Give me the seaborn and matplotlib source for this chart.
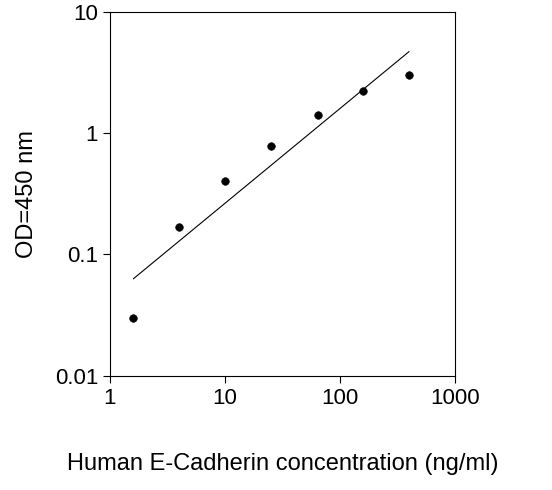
import numpy as np
import pandas as pd
import seaborn as sns
import matplotlib.pyplot as plt
import matplotlib.ticker as mticker

conc = [1.6, 4, 10, 25, 64, 160, 400]
od = [0.030, 0.17, 0.40, 0.78, 1.40, 2.22, 3.0]
fit_x = [1.6, 400]
fit_y = [0.063, 4.7]

data = pd.DataFrame({"conc": conc, "od": od})

sns.set_style("ticks")
plt.rcParams['font.family'] = ['Liberation Sans', 'DejaVu Sans']
plt.rcParams['text.color'] = 'black'
plt.rcParams['axes.labelcolor'] = 'black'
plt.rcParams['xtick.color'] = 'black'
plt.rcParams['ytick.color'] = 'black'

fig = plt.figure(figsize=[5.52, 4.90], dpi=100)
ax = fig.add_axes([0.199, 0.233, 0.625, 0.743])

sns.lineplot(x=fit_x, y=fit_y, color='black', lw=0.8, ax=ax)
sns.scatterplot(x="conc", y="od", data=data, color='black', s=30, edgecolor='black', ax=ax)

ax.set_xscale('log')
ax.set_yscale('log')
ax.set_xlim(1, 1000)
ax.set_ylim(0.01, 10)
ax.xaxis.set_major_formatter(mticker.FuncFormatter(lambda v, p: f"{v:g}"))
ax.yaxis.set_major_formatter(mticker.FuncFormatter(lambda v, p: f"{v:g}"))
ax.xaxis.set_minor_locator(mticker.NullLocator())
ax.yaxis.set_minor_locator(mticker.NullLocator())
ax.tick_params(labelsize=16, direction='out', length=5, color='black')
for s in ax.spines.values():
    s.set_color('black')
    s.set_linewidth(0.8)

ax.set_xlabel('Human E-Cadherin concentration (ng/ml)', fontsize=17, labelpad=32)
ax.set_ylabel('OD=450 nm', fontsize=17, labelpad=12)

plt.savefig('out.png', dpi=100)
